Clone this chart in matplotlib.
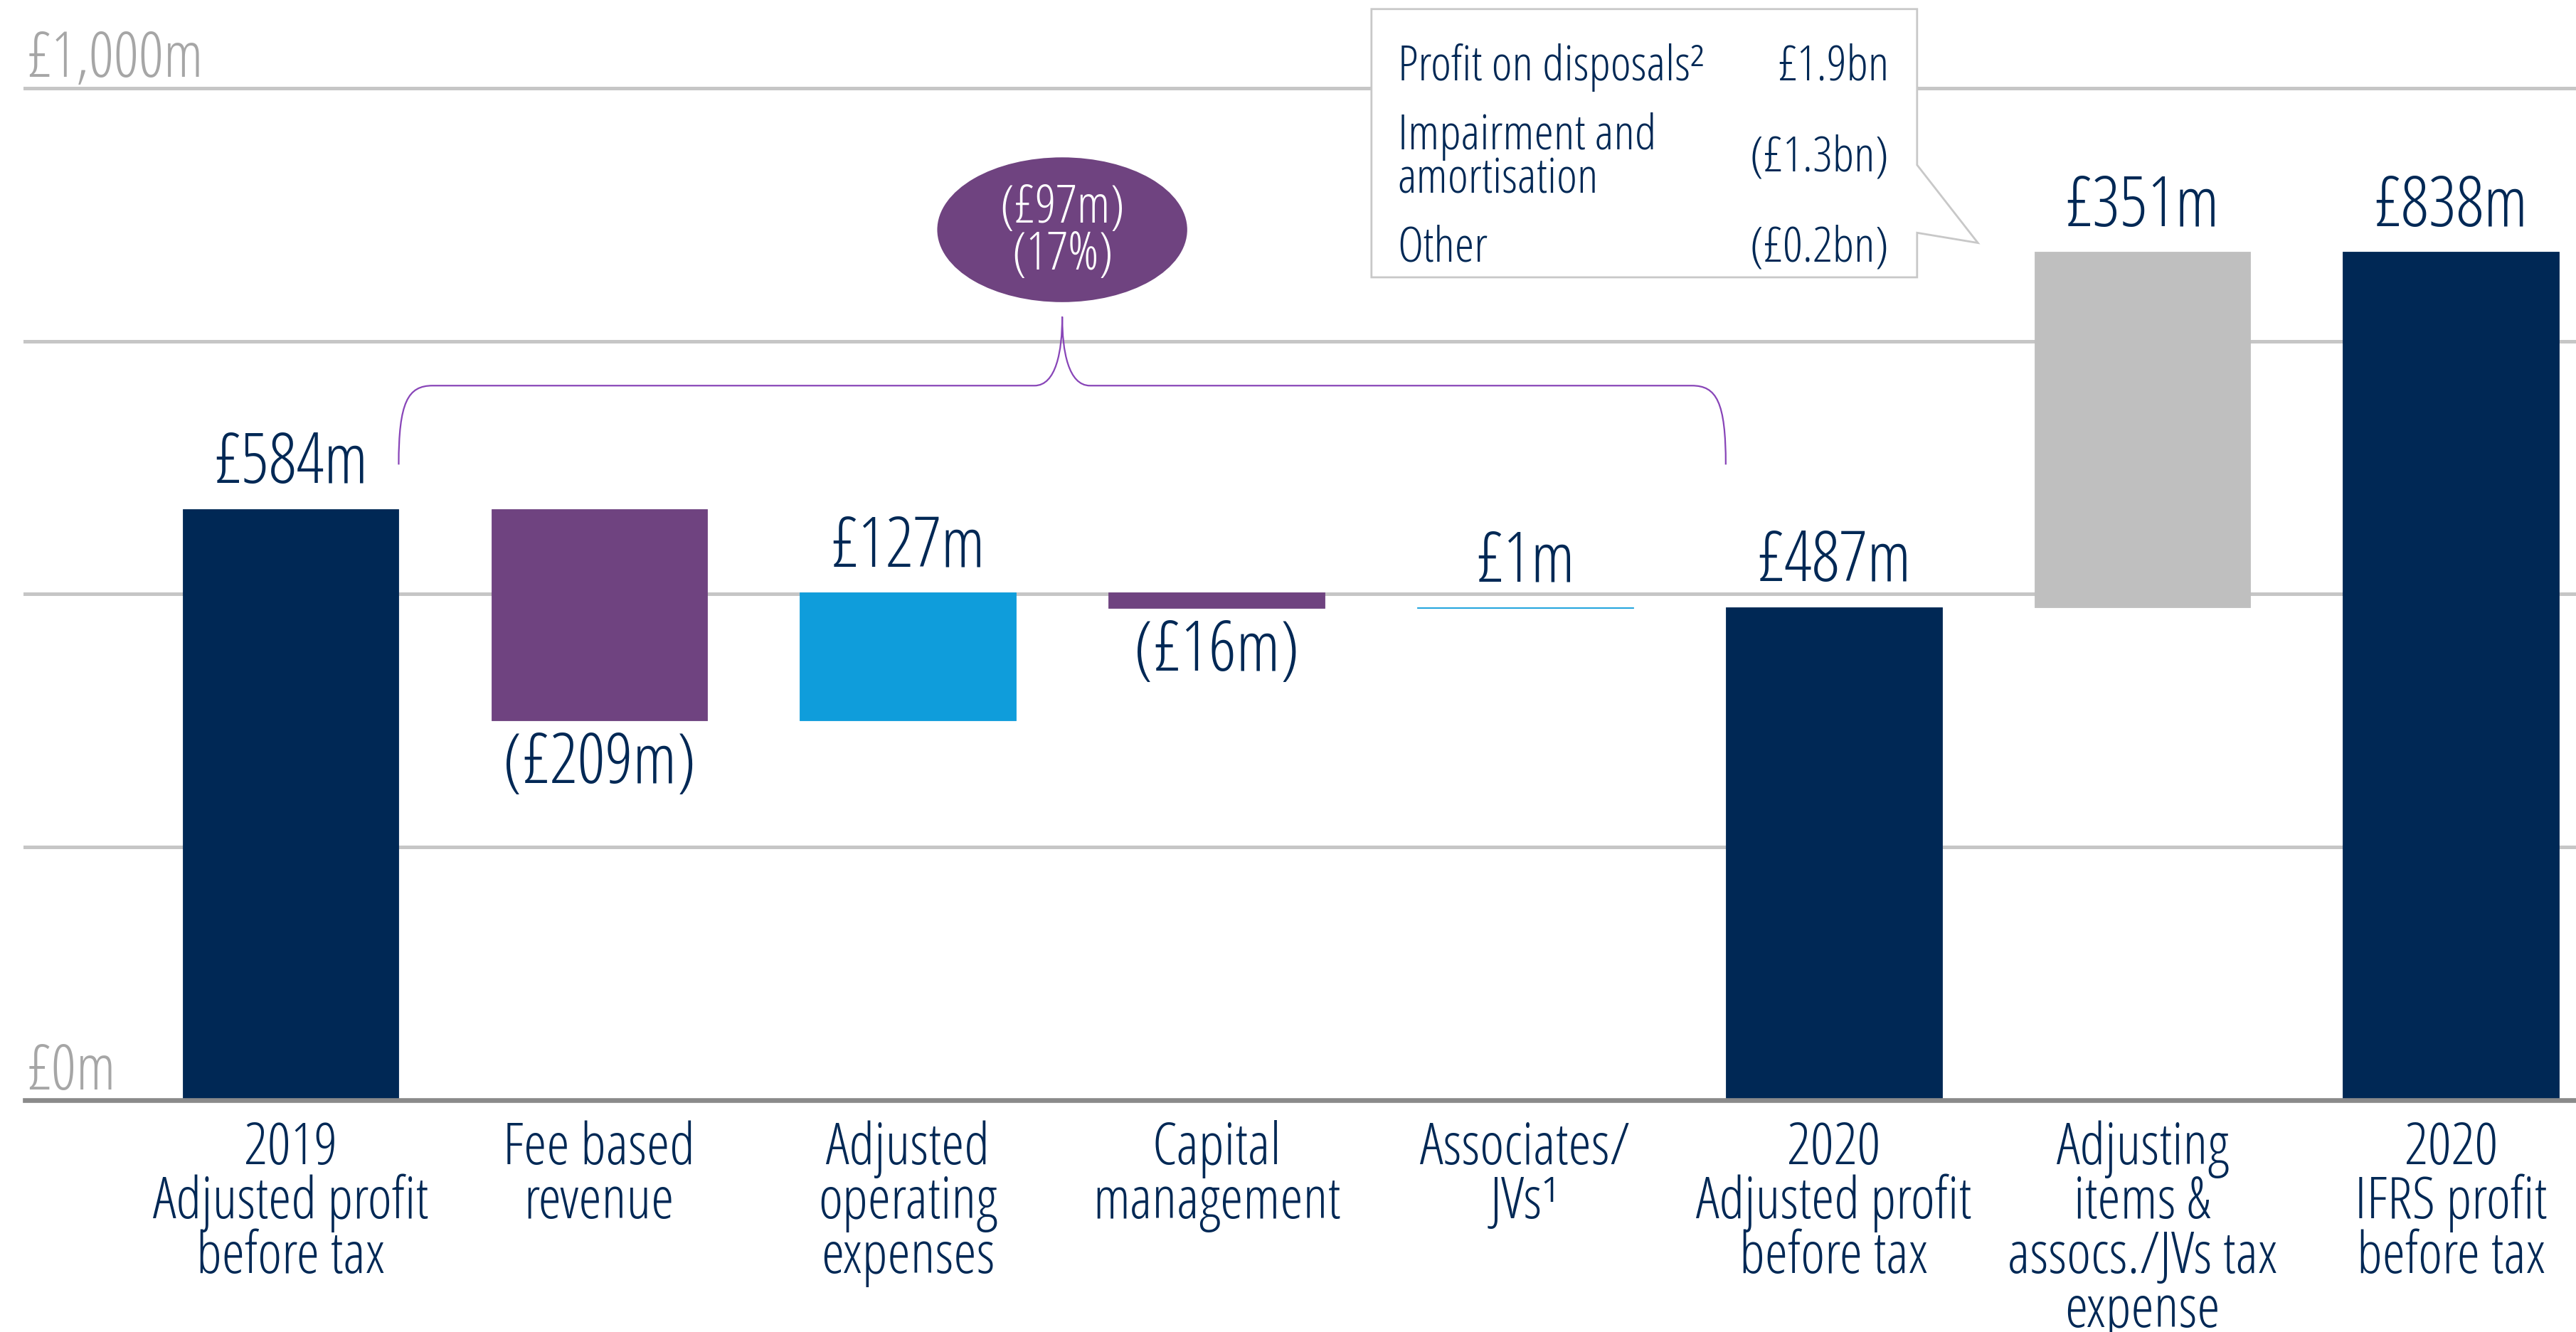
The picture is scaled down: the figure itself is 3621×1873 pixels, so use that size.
import matplotlib
matplotlib.use("Agg")
import matplotlib.pyplot as plt
from matplotlib import font_manager as fm
from matplotlib.path import Path
from matplotlib.patches import PathPatch, Ellipse, Polygon
import numpy as np

# chart data
categories = ["2019\nAdjusted profit\nbefore tax", "Fee based\nrevenue", "Adjusted\noperating\nexpenses",
              "Capital\nmanagement", "Associates/\nJVs\u00b9", "2020\nAdjusted profit\nbefore tax",
              "Adjusting\nitems &\nassocs./JVs tax\nexpense", "2020\nIFRS profit\nbefore tax"]
values = [584, -209, 127, -16, 1, 487, 351, 838]
is_total = [True, False, False, False, False, True, False, True]
value_labels = ["\u00a3584m", "(\u00a3209m)", "\u00a3127m", "(\u00a316m)", "\u00a31m", "\u00a3487m", "\u00a3351m", "\u00a3838m"]
bar_colors = ["#002855", "#6f4380", "#0f9ddb", "#6f4380", "#0f9ddb", "#002855", "#bfbfbf", "#002855"]
y_ticks = [0, 1000]
y_tick_labels = ["\u00a30m", "\u00a31,000m"]
grid_values = [250, 500, 750]
bubble_lines = ["(\u00a397m)", "(17%)"]
box_items = ["Profit on disposals\u00b2", "Impairment and\namortisation", "Other"]
box_amounts = ["\u00a31.9bn", "(\u00a31.3bn)", "(\u00a30.2bn)"]

NAVY = "#002855"
PURPLE = "#6f4380"

# look for a light condensed face, fall back to plain Open Sans
fonts = fm.fontManager.ttflist
family, weight, stretch = "Open Sans", "normal", "normal"
picks = [lambda f: "Open Sans" in f.name and f.stretch == "condensed" and f.weight == 300,
         lambda f: f.name == "Fira Sans Condensed" and f.weight == 300,
         lambda f: f.name == "Encode Sans Condensed" and f.weight == 300,
         lambda f: f.name == "Liberation Sans Narrow",
         lambda f: f.name == "Open Sans" and f.weight == 300]
for test in picks:
    hit = [f for f in fonts if test(f) and f.style == "normal"]
    if hit:
        family, weight, stretch = hit[0].name, hit[0].weight, hit[0].stretch
        break
plt.rcParams["font.family"] = [family, "DejaVu Sans"]
plt.rcParams["font.weight"] = weight
plt.rcParams["font.stretch"] = stretch

fig = plt.figure(figsize=(36.21, 18.74), dpi=100)
ax = fig.add_axes([15 / 1568, 141 / 811, 1553 / 1568, 616 / 811])
ax.set_xlim(-0.862, 7.405)
ax.set_ylim(0, 1000)
for s in ax.spines.values():
    s.set_visible(False)

# gridlines
for g in grid_values + [1000]:
    ax.axhline(g, color="#c6c6c6", lw=3.6, zorder=0, clip_on=False)
ax.axhline(0, color="#8a8a8a", lw=4.8, zorder=3, clip_on=False)

# waterfall
x = np.arange(len(values))
bottoms, heights = [], []
running = 0
for v, tot in zip(values, is_total):
    if tot:
        bottoms.append(0)
        heights.append(v)
        running = v
    else:
        bottoms.append(running + min(v, 0))
        heights.append(abs(v))
        running += v
ax.bar(x, heights, bottom=bottoms, width=0.70, color=bar_colors, edgecolor=bar_colors, linewidth=0.6, zorder=2)

for xi, b, h, v, lab in zip(x, bottoms, heights, values, value_labels):
    if v < 0:
        ax.annotate(lab, (xi, b), xytext=(0, -9), textcoords="offset points",
                    ha="center", va="top", fontsize=70, color=NAVY)
    else:
        ax.annotate(lab, (xi, b + h), xytext=(0, 27), textcoords="offset points",
                    ha="center", va="baseline", fontsize=70, color=NAVY)

# category labels, one line at a time so the line gap stays tight
ax.set_xticks([])
ax.set_yticks([])
for xi, cat in zip(x, categories):
    for j, line in enumerate(cat.split("\n")):
        ax.annotate(line, (xi, 0), xytext=(0, -64 - 55 * j), textcoords="offset points",
                    ha="center", va="baseline", fontsize=59, color=NAVY, annotation_clip=False)

for yv, yl in zip(y_ticks, y_tick_labels):
    ax.annotate(yl, (0, yv), xycoords=("axes fraction", "data"), xytext=(2, 12),
                textcoords="offset points", ha="left", va="baseline", fontsize=63, color="#a6a6a6")

# curly bracket over the operating moves
x0, x1 = x[0] + 0.35, x[5] - 0.35
xm = (x0 + x1) / 2
y_end, y_h, y_p = 628, 706, 774
verts = [(x0, y_end), (x0, 690), (x0 + 0.03, y_h), (x0 + 0.11, y_h),
         (xm - 0.09, y_h),
         (xm - 0.02, y_h), (xm, y_h + 34), (xm, y_p),
         (xm, y_h + 34), (xm + 0.02, y_h), (xm + 0.09, y_h),
         (x1 - 0.11, y_h),
         (x1 - 0.03, y_h), (x1, 690), (x1, y_end)]
codes = [Path.MOVETO, Path.CURVE4, Path.CURVE4, Path.CURVE4, Path.LINETO,
         Path.CURVE4, Path.CURVE4, Path.CURVE4, Path.CURVE4, Path.CURVE4, Path.CURVE4,
         Path.LINETO, Path.CURVE4, Path.CURVE4, Path.CURVE4]
ax.add_patch(PathPatch(Path(verts, codes), fill=False, edgecolor="#8845b8", lw=1.6, clip_on=False, zorder=4))

ax.add_patch(Ellipse((xm, 860), 0.81, 143, facecolor=PURPLE, edgecolor="none", clip_on=False, zorder=4))
ax.text(xm, 858, "\n".join(bubble_lines), ha="center", va="center", fontsize=53, color="white",
        linespacing=0.84, zorder=5)

# callout box for adjusting items
bx0, bx1, by0, by1 = 3.502, 5.270, 813, 1078
box = Polygon([(bx0, by0), (bx0, by1), (bx1, by1), (bx1, 924), (5.467, 847), (bx1, 857), (bx1, by0)],
              closed=True, facecolor="white", edgecolor="#c8c8c8", lw=2, clip_on=False, zorder=5)
ax.add_patch(box)
rows_y = [1021, 931, 842]
for item, amt, ry in zip(box_items, box_amounts, rows_y):
    ax.text(3.587, ry, item, ha="left", va="center", fontsize=50, color=NAVY, linespacing=0.88, zorder=6)
    ax.text(5.179, ry, amt, ha="right", va="center", fontsize=50, color=NAVY, zorder=6)

fig.savefig("out.png", dpi=100, facecolor="white")
